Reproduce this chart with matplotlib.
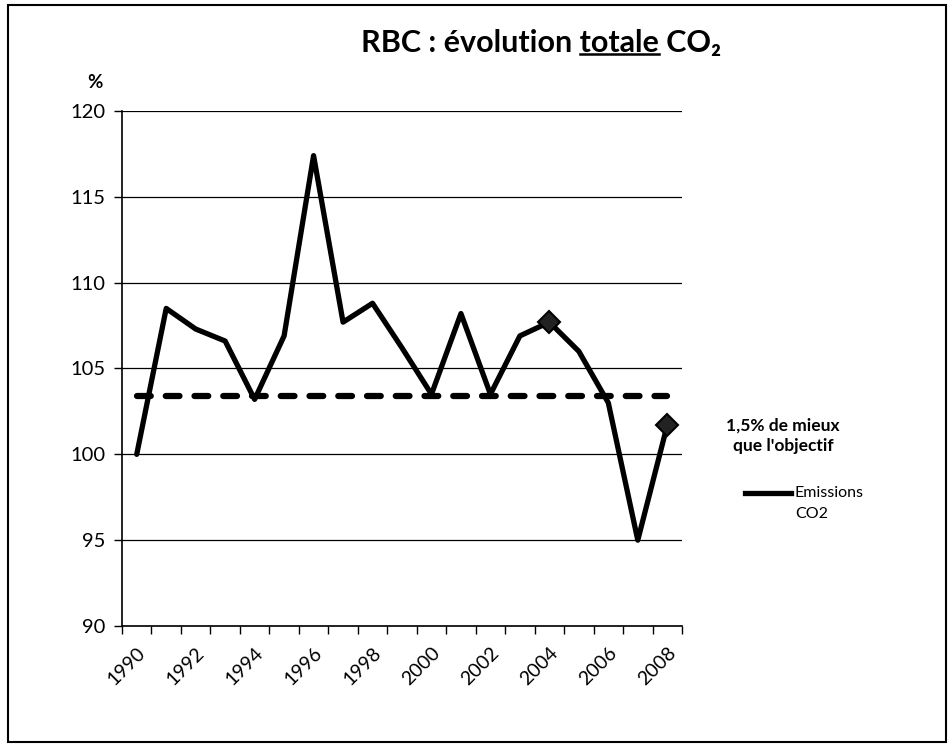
import matplotlib
matplotlib.use('Agg')
import matplotlib.pyplot as plt
from matplotlib.patches import Rectangle
from matplotlib.lines import Line2D

# donnees (indice 1990 = 100)
annees = list(range(1990, 2009))
emissions = [100.0, 108.5, 107.3, 106.6, 103.2, 106.9, 117.4, 107.7, 108.8, 106.2,
             103.5, 108.2, 103.5, 106.9, 107.7, 106.0, 103.0, 95.0, 101.7]
objectif = 103.4
annees_marquees = [2004, 2008]
yticks = [90, 95, 100, 105, 110, 115, 120]
labels_x = [str(a) for a in annees[::2]]

plt.rcParams['font.family'] = ['Lato', 'DejaVu Sans']

W, H = 952, 753
fig = plt.figure(figsize=(W / 100, H / 100), dpi=100)
ax = fig.add_axes([122 / W, 1 - 626 / H, (682 - 122) / W, (626 - 111) / H])

x = list(range(len(annees)))
ax.plot(x, emissions, color='black', lw=3.8, solid_joinstyle='round',
        solid_capstyle='round', zorder=4)
ax.plot(x, [objectif] * len(x), color='black', lw=4.5, dashes=(2.2, 2.4),
        dash_capstyle='round', zorder=3)
idx = [annees.index(a) for a in annees_marquees]
ax.plot(idx, [emissions[i] for i in idx], 'D', ms=11, color='#222222',
        mec='black', mew=1.5, zorder=5)

ax.set_ylim(90, 120)
ax.set_yticks(yticks)
ax.yaxis.grid(True, color='black', lw=0.9)
ax.set_axisbelow(True)
ax.set_xlim(-0.5, len(annees) - 0.5)
ax.set_xticks(x[::2])
ax.set_xticklabels(labels_x, rotation=45, ha='right', rotation_mode='anchor')
ax.set_xticks([i - 0.5 for i in range(len(annees) + 1)], minor=True)
ax.tick_params(axis='x', which='major', length=0, pad=13, labelsize=14)
ax.tick_params(axis='x', which='minor', length=6, width=1, direction='out')
ax.tick_params(axis='y', length=6, width=1, direction='out', pad=6, labelsize=14.5)
for s in ['top', 'right']:
    ax.spines[s].set_visible(False)
for s in ['left', 'bottom']:
    ax.spines[s].set_linewidth(1.2)

fig.text(95 / W, 1 - 82 / H, '%', fontsize=13.5, weight='bold', ha='center', va='center')

fig.text(783 / W, 1 - 436 / H, "1,5% de mieux\nque l'objectif", ha='center',
         va='center', fontsize=12.5, weight='bold', linespacing=1.35)

# legende dessinee a la main : trait aligne sur la premiere ligne
fig.add_artist(Line2D([745 / W, 791 / W], [1 - 493 / H, 1 - 493 / H],
                      transform=fig.transFigure, color='black', lw=3.8))
fig.text(795 / W, 1 - 493 / H, "Emissions", ha='left', va='center', fontsize=11.5)
fig.text(795 / W, 1 - 514 / H, "CO2", ha='left', va='center', fontsize=11.5)

# titre avec "totale" souligne
titre = "RBC : évolution totale CO₂"
t = fig.text(541 / W, 1 - 43 / H, titre, ha='center', va='center', fontsize=22,
             weight='bold')
fig.canvas.draw()
r = fig.canvas.get_renderer()


def largeur(s):
    tmp = fig.text(0, 0, s, fontsize=22, weight='bold')
    w = tmp.get_window_extent(r).width
    tmp.remove()
    return w


bb = t.get_window_extent(r)
x_fin = bb.x0 + largeur("RBC : évolution totale")
x_deb = x_fin - largeur("totale")
y_sl = bb.y0 + 3
fig.add_artist(Line2D([x_deb / W, x_fin / W], [y_sl / H, y_sl / H],
                      transform=fig.transFigure, color='black', lw=1.8))

fig.add_artist(Rectangle((8 / W, 1 - 742 / H), (946 - 8) / W, (742 - 5) / H,
                         transform=fig.transFigure, fill=False, lw=1.5, ec='black'))

fig.savefig('out.png', dpi=100)
